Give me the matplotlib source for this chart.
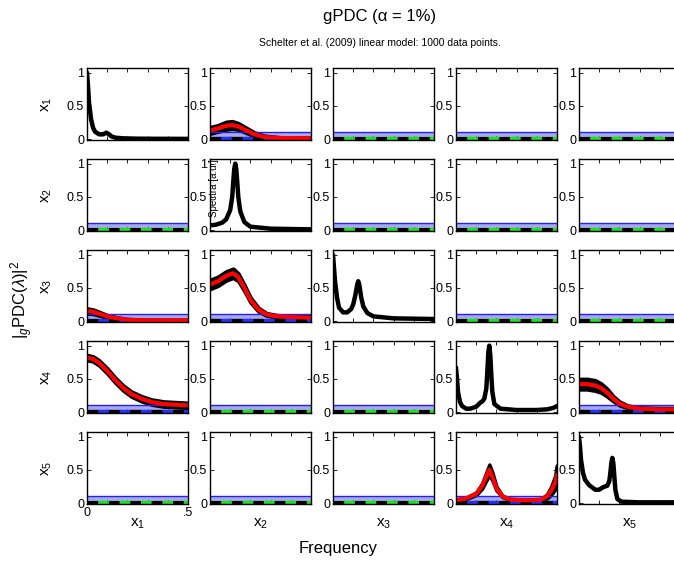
import matplotlib
matplotlib.use("Agg")
import matplotlib.pyplot as plt
import numpy as np

plt.rcParams['font.family'] = ['Liberation Sans', 'DejaVu Sans']
plt.rcParams['mathtext.fontset'] = 'custom'
plt.rcParams['mathtext.rm'] = 'Liberation Sans'
plt.rcParams['mathtext.it'] = 'Liberation Sans:italic'

# spectra on the diagonal (frequency, power in a.u.)
spec_f = {
    1: [0, 0.005, 0.01, 0.02, 0.03, 0.04, 0.06, 0.08, 0.095, 0.11, 0.12, 0.14, 0.18, 0.25, 0.35, 0.5],
    2: [0, 0.03, 0.06, 0.08, 0.1, 0.11, 0.115, 0.12, 0.125, 0.13, 0.135, 0.14, 0.15, 0.17, 0.2, 0.3, 0.5],
    3: [0, 0.005, 0.01, 0.02, 0.03, 0.05, 0.07, 0.09, 0.1, 0.11, 0.12, 0.125, 0.13, 0.14, 0.15, 0.17, 0.2, 0.3, 0.5],
    4: [0, 0.005, 0.01, 0.02, 0.03, 0.05, 0.07, 0.1, 0.12, 0.13, 0.14, 0.15, 0.155, 0.16, 0.165, 0.17,
        0.175, 0.18, 0.19, 0.22, 0.3, 0.4, 0.45, 0.48, 0.5],
    5: [0, 0.005, 0.01, 0.02, 0.03, 0.05, 0.08, 0.1, 0.12, 0.13, 0.14, 0.15, 0.155, 0.16, 0.165, 0.17,
        0.175, 0.18, 0.19, 0.21, 0.3, 0.5],
}
spec_y = {
    1: [1.0, 0.8, 0.55, 0.3, 0.17, 0.11, 0.07, 0.07, 0.095, 0.07, 0.04, 0.02, 0.01, 0.005, 0.003, 0.002],
    2: [0.07, 0.08, 0.11, 0.16, 0.3, 0.5, 0.72, 0.92, 1.0, 0.92, 0.72, 0.5, 0.28, 0.12, 0.05, 0.02, 0.01],
    3: [1.0, 0.8, 0.6, 0.35, 0.2, 0.13, 0.13, 0.18, 0.25, 0.38, 0.55, 0.6, 0.55, 0.35, 0.22, 0.12, 0.07, 0.04, 0.03],
    4: [0.67, 0.5, 0.3, 0.15, 0.09, 0.05, 0.05, 0.08, 0.14, 0.16, 0.2, 0.35, 0.6, 0.9, 1.0, 0.85,
        0.55, 0.3, 0.12, 0.05, 0.03, 0.03, 0.04, 0.06, 0.09],
    5: [1.0, 0.85, 0.65, 0.45, 0.35, 0.27, 0.2, 0.2, 0.24, 0.25, 0.26, 0.33, 0.45, 0.6, 0.68, 0.6,
        0.4, 0.2, 0.06, 0.02, 0.01, 0.01],
}

# significant gPDC: (row, col) -> frequency, value, half width of confidence band
gpdc_f = {
    (1, 2): [0, 0.04, 0.08, 0.11, 0.14, 0.18, 0.22, 0.27, 0.35, 0.5],
    (3, 1): [0, 0.03, 0.06, 0.1, 0.15, 0.2, 0.3, 0.5],
    (3, 2): [0, 0.04, 0.08, 0.115, 0.14, 0.17, 0.2, 0.24, 0.28, 0.33, 0.4, 0.5],
    (4, 1): [0, 0.03, 0.06, 0.1, 0.14, 0.18, 0.22, 0.27, 0.32, 0.38, 0.44, 0.5],
    (4, 5): [0, 0.04, 0.08, 0.11, 0.14, 0.17, 0.2, 0.24, 0.3, 0.4, 0.5],
    (5, 4): [0, 0.05, 0.1, 0.13, 0.15, 0.165, 0.18, 0.2, 0.23, 0.27, 0.35, 0.42, 0.45, 0.47, 0.49, 0.5],
}
gpdc_v = {
    (1, 2): [0.13, 0.16, 0.2, 0.21, 0.19, 0.13, 0.07, 0.03, 0.015, 0.01],
    (3, 1): [0.15, 0.14, 0.11, 0.07, 0.04, 0.02, 0.01, 0.01],
    (3, 2): [0.55, 0.6, 0.68, 0.72, 0.66, 0.5, 0.32, 0.17, 0.1, 0.07, 0.06, 0.05],
    (4, 1): [0.82, 0.8, 0.74, 0.62, 0.48, 0.36, 0.27, 0.2, 0.15, 0.12, 0.11, 0.1],
    (4, 5): [0.42, 0.42, 0.4, 0.36, 0.29, 0.2, 0.13, 0.08, 0.05, 0.04, 0.04],
    (5, 4): [0.04, 0.07, 0.14, 0.26, 0.4, 0.5, 0.4, 0.22, 0.1, 0.05, 0.04, 0.05, 0.1, 0.18, 0.3, 0.42],
}
gpdc_ci = {
    (1, 2): [0.05, 0.05, 0.06, 0.06, 0.05, 0.04, 0.03, 0.02, 0.01, 0.01],
    (3, 1): [0.04, 0.035, 0.03, 0.02, 0.015, 0.01, 0.01, 0.01],
    (3, 2): [0.07, 0.07, 0.07, 0.07, 0.06, 0.05, 0.04, 0.03, 0.02, 0.02, 0.02, 0.02],
    (4, 1): [0.04, 0.04, 0.04, 0.04, 0.04, 0.04, 0.04, 0.04, 0.04, 0.04, 0.04, 0.04],
    (4, 5): [0.08, 0.08, 0.08, 0.07, 0.06, 0.04, 0.03, 0.02, 0.02, 0.02, 0.02],
    (5, 4): [0.01, 0.01, 0.02, 0.04, 0.06, 0.08, 0.06, 0.03, 0.01, 0.01, 0.01, 0.01, 0.03, 0.06, 0.1, 0.15],
}

threshold = 0.012     # gPDC threshold (dashed)
ci_band = 0.105       # upper level of the blue shaded band
names = ['x$_1$', 'x$_2$', 'x$_3$', 'x$_4$', 'x$_5$']

W, H = 674, 565
fig = plt.figure(figsize=(W / 100, H / 100), dpi=100)

col_left = [87, 210, 333, 456, 579]
row_top = [68, 159, 250, 341, 432]
pw, ph = 101, 72

for i in range(5):
    for j in range(5):
        ax = fig.add_axes([col_left[j] / W, 1 - (row_top[i] + ph) / H, pw / W, ph / H])
        ax.set_zorder(10 - j)
        r, c = i + 1, j + 1
        if r == c:
            ax.plot(spec_f[r], spec_y[r], color='k', lw=3.2, solid_capstyle='round')
        else:
            sig = (r, c) in gpdc_f
            ax.fill_between([0, 0.5], threshold, ci_band, color='#a8a8f2', lw=0)
            ax.plot([0, 0.5], [ci_band, ci_band], color='#2222ee', lw=1)
            ax.plot([0, 0.5], [threshold, threshold], color='#2233ee' if sig else '#22dd22', lw=2.5)
            ax.plot([0, 0.5], [threshold, threshold], color='k', lw=2.2, dashes=(3.5, 3.5))
            if sig:
                f = np.array(gpdc_f[(r, c)])
                v = np.array(gpdc_v[(r, c)])
                ci = np.array(gpdc_ci[(r, c)])
                ax.fill_between(f, v - ci, v + ci, color='k', lw=2.5, edgecolor='k')
                ax.plot(f, v, color='red', lw=3)
        ax.set_xlim(0, 0.5)
        ax.set_ylim(-0.015, 1.07)
        ax.set_yticks([0, 0.5, 1])
        ax.set_yticklabels(['0', '0.5', '1'])
        ax.set_xticks([0, 0.1, 0.2, 0.3, 0.4, 0.5])
        if i == 4 and j == 0:
            ax.set_xticklabels(['0', '', '', '', '', '.5'])
        else:
            ax.set_xticklabels([])
        ax.tick_params(direction='in', top=True, right=True, length=3, width=0.6,
                       labelsize=9, pad=2)
        for s in ax.spines.values():
            s.set_linewidth(1)

for k in range(5):
    fig.text(47 / W, 1 - (row_top[k] + ph / 2) / H, names[k], rotation=90,
             ha='center', va='center', fontsize=11)
    fig.text((col_left[k] + pw / 2) / W, 1 - 524 / H, names[k],
             ha='center', va='center', fontsize=11)

fig.text(214 / W, 1 - 188 / H, 'Spectra [a.u.]', rotation=90, ha='center',
         va='center', fontsize=7, zorder=20)

fig.text(22 / W, 1 - 300 / H, r'$|_{g}$PDC($\lambda$)$|^2$', rotation=90,
         ha='center', va='center', fontsize=12)
fig.text(338 / W, 1 - 548 / H, 'Frequency', ha='center', va='center', fontsize=12)
fig.text(380 / W, 1 - 17 / H, 'gPDC (α = 1%)', ha='center', va='center', fontsize=12)
fig.text(380 / W, 1 - 43 / H, 'Schelter et al. (2009) linear model: 1000 data points.',
         ha='center', va='center', fontsize=7.5)

fig.savefig('out.png', dpi=100)
